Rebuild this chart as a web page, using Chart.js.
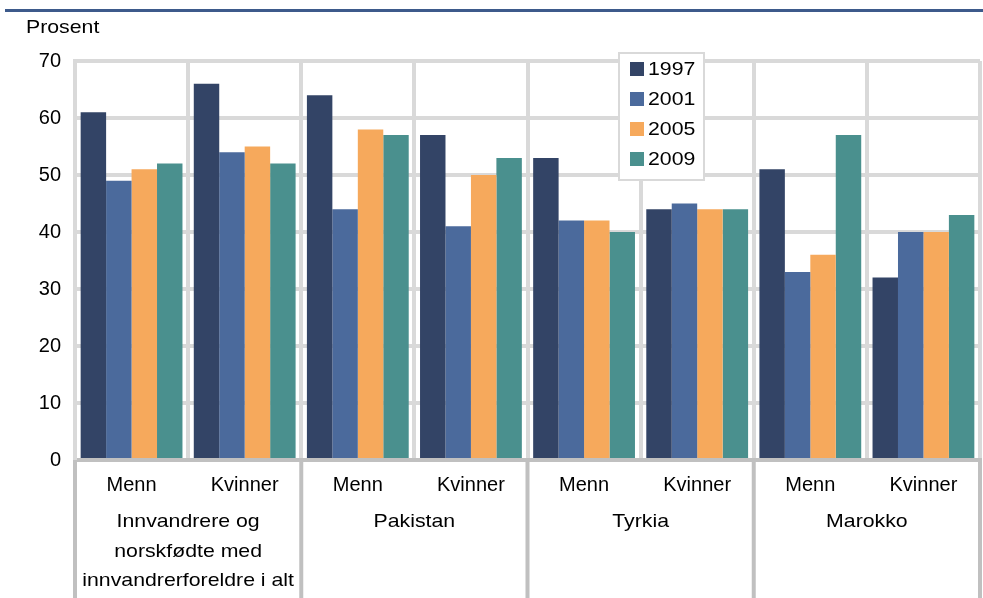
<!DOCTYPE html>
<html>
<head>
<meta charset="utf-8">
<script src="https://cdn.jsdelivr.net/npm/chart.js@4/dist/chart.umd.min.js"></script>
<style>
html,body{margin:0;padding:0;background:#fff;}
#wrap{position:relative;width:983px;height:598px;}
</style>
</head>
<body>
<div id="wrap"><canvas id="c" width="983" height="598"></canvas></div>
<script>
const categories = ["Menn","Kvinner","Menn","Kvinner","Menn","Kvinner","Menn","Kvinner"];
const groups = [
  ["Innvandrere og","norskfødte med","innvandrerforeldre i alt"],
  ["Pakistan"],
  ["Tyrkia"],
  ["Marokko"]
];
const seriesNames = ["1997","2001","2005","2009"];
const v1997 = [61,66,64,57,53,44,51,32];
const v2001 = [49,54,44,41,42,45,33,40];
const v2005 = [51,55,58,50,42,44,36,40];
const v2009 = [52,52,57,53,40,44,57,43];
const colors = ["#334466","#4b6a9c","#f6a95c","#4a908e"];
const yTicks = [0,10,20,30,40,50,60,70];
const unitLabel = "Prosent";

const FONT = "'Liberation Sans', Arial, sans-serif";
const SX = 1.12;

function stretchedText(ctx, text, x, y, align) {
  ctx.save();
  ctx.translate(x, y);
  ctx.scale(SX, 1);
  ctx.textAlign = align;
  ctx.fillText(text, 0, 0);
  ctx.restore();
}

const decor = {
  id:'decor',
  beforeDraw(chart){
    const ctx = chart.ctx;
    ctx.save();
    ctx.fillStyle = '#fff';
    ctx.fillRect(0,0,chart.width,chart.height);
    ctx.fillStyle = '#3d5a8b';
    ctx.fillRect(5,9,978,3);
    ctx.fillStyle = '#000';
    ctx.font = '19px ' + FONT;
    ctx.textBaseline = 'middle';
    stretchedText(ctx, unitLabel, 26, 28, 'left');
    ctx.restore();
  },
  afterDraw(chart){
    const ctx = chart.ctx;
    const x = chart.scales.x;
    const area = chart.chartArea;
    ctx.save();
    ctx.strokeStyle = '#c0c0c0';
    ctx.lineWidth = 4;
    const n = categories.length;
    const step = (x.getPixelForValue(1) - x.getPixelForValue(0));
    for (let g = 0; g <= groups.length; g++) {
      const idx = g*2;
      const px = x.getPixelForValue(Math.min(idx, n-1)) + (idx >= n ? step/2 : -step/2);
      ctx.beginPath();
      ctx.moveTo(px, area.bottom);
      ctx.lineTo(px, 598);
      ctx.stroke();
    }
    ctx.fillStyle = '#000';
    ctx.font = '19px ' + FONT;
    ctx.textBaseline = 'middle';
    groups.forEach((lines, g) => {
      const cx = (x.getPixelForValue(g*2) + x.getPixelForValue(g*2+1)) / 2;
      lines.forEach((t, i) => stretchedText(ctx, t, cx, 522 + i*29.5, 'center'));
    });
    const lx = 619, ly = 53, lw = 85, lh = 127;
    ctx.fillStyle = '#fff';
    ctx.fillRect(lx, ly, lw, lh);
    ctx.strokeStyle = '#d9d9d9';
    ctx.lineWidth = 2;
    ctx.strokeRect(lx, ly, lw, lh);
    ctx.font = '19px ' + FONT;
    chart.data.datasets.forEach((ds, i) => {
      const cy = 69 + i*30;
      ctx.fillStyle = ds.backgroundColor;
      ctx.fillRect(630, cy-7, 14, 14);
      ctx.fillStyle = '#000';
      stretchedText(ctx, ds.label, 648, cy+1, 'left');
    });
    ctx.restore();
  }
};

const seriesVals = [v1997, v2001, v2005, v2009];
new Chart(document.getElementById('c'), {
  type: 'bar',
  data: {
    labels: categories,
    datasets: seriesNames.map((name, i) => ({
      label: name,
      data: seriesVals[i],
      backgroundColor: colors[i],
      borderWidth: 0,
      categoryPercentage: 0.9,
      barPercentage: 1.0
    }))
  },
  options: {
    responsive: false,
    animation: false,
    devicePixelRatio: 1,
    layout: { padding: { top: 61, right: 3, left: 0, bottom: 0 } },
    plugins: { legend: { display: false }, tooltip: { enabled: false } },
    scales: {
      x: {
        grid: { color: '#d9d9d9', lineWidth: 4, drawTicks: false, offset: true },
        border: { color: '#c0c0c0', width: 4 },
        ticks: { color: '#000', font: { family: FONT, size: 20 }, padding: 13, maxRotation: 0, autoSkip: false },
        afterFit(s){ s.height = 138; }
      },
      y: {
        min: 0, max: 70,
        afterBuildTicks(s){ s.ticks = yTicks.map(v => ({value: v})); },
        grid: { color: '#d9d9d9', lineWidth: 4, drawTicks: false },
        border: { color: '#d9d9d9', width: 4 },
        ticks: { color: '#000', font: { family: FONT, size: 20 }, padding: 14 },
        afterFit(s){ s.width = 75; }
      }
    }
  },
  plugins: [decor]
});
</script>
</body>
</html>
